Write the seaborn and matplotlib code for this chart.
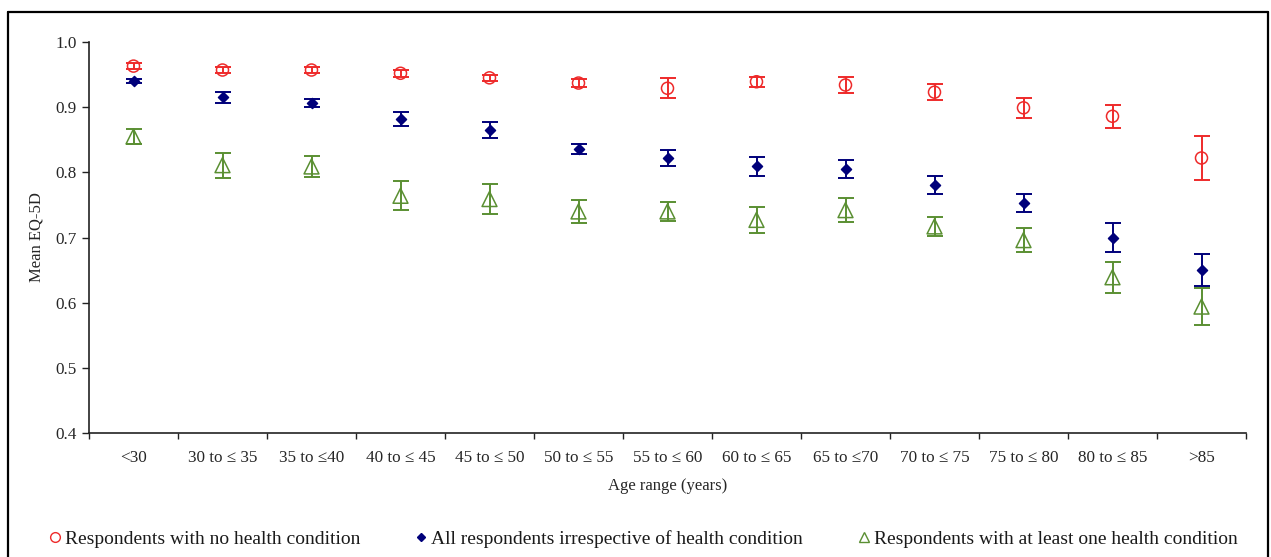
import numpy as np
import pandas as pd
import seaborn as sns
import matplotlib.pyplot as plt
from matplotlib.lines import Line2D

# --- Data ---
AGE_GROUPS = ['<30', '30 to \u2264 35', '35 to \u226440', '40 to \u2264 45', '45 to \u2264 50',
              '50 to \u2264 55', '55 to \u2264 60', '60 to \u2264 65', '65 to \u226470',
              '70 to \u2264 75', '75 to \u2264 80', '80 to \u2264 85', '>85']

NO_COND_MEAN = [0.963, 0.957, 0.957, 0.952, 0.945, 0.937, 0.929, 0.939, 0.934, 0.923, 0.899, 0.886, 0.822]
NO_COND_ERR = [0.005, 0.004, 0.004, 0.005, 0.005, 0.006, 0.015, 0.008, 0.013, 0.012, 0.015, 0.018, 0.034]

ALL_MEAN = [0.940, 0.915, 0.907, 0.882, 0.865, 0.836, 0.822, 0.809, 0.805, 0.781, 0.753, 0.700, 0.650]
ALL_ERR = [0.003, 0.008, 0.006, 0.011, 0.012, 0.008, 0.012, 0.015, 0.014, 0.0135, 0.0145, 0.0215, 0.025]

COND_MEAN = [0.855, 0.811, 0.809, 0.764, 0.759, 0.740, 0.740, 0.727, 0.742, 0.717, 0.696, 0.639, 0.594]
COND_ERR = [0.012, 0.019, 0.016, 0.022, 0.023, 0.017, 0.0145, 0.020, 0.018, 0.015, 0.018, 0.024, 0.029]

SERIES = [
    ('Respondents with no health condition', NO_COND_MEAN, NO_COND_ERR),
    ('All respondents irrespective of health condition', ALL_MEAN, ALL_ERR),
    ('Respondents with at least one health condition', COND_MEAN, COND_ERR),
]

# --- Style ---
RED = '#EE2A2A'
NAVY = '#00007A'
GREEN = '#5A8F32'
STYLES = {
    SERIES[0][0]: dict(color=RED, marker='o', face='none', size=75, ecolor=RED),
    SERIES[1][0]: dict(color=NAVY, marker='D', face=NAVY, size=26, ecolor=NAVY),
    SERIES[2][0]: dict(color=GREEN, marker='^', face='none', size=115, ecolor=GREEN),
}


def main():
    sns.set_theme(style='white')
    plt.rcParams['font.family'] = ['Liberation Serif', 'DejaVu Serif']
    plt.rcParams['text.color'] = '#1a1a1a'

    fig = plt.figure(figsize=(12.71, 5.57), dpi=100)
    ax = fig.add_axes([89 / 1271, 1 - 433 / 557, (1246 - 89) / 1271, (433 - 42) / 557])

    x = np.arange(len(AGE_GROUPS))
    for name, mean, err in SERIES:
        st = STYLES[name]
        df = pd.DataFrame({'pos': x, 'value': mean})
        ax.errorbar(df['pos'], df['value'], yerr=err, fmt='none', ecolor=st['ecolor'],
                    elinewidth=1.4, capsize=5.5, capthick=1.4, zorder=2)
        sns.scatterplot(data=df, x='pos', y='value', ax=ax, marker=st['marker'],
                        s=st['size'], facecolor=st['face'], edgecolor=st['color'],
                        linewidth=1.1, zorder=3)

    # axes
    ax.set_ylim(0.4, 1.0)
    ax.set_xlim(-0.5, len(AGE_GROUPS) - 0.5)
    ax.set_yticks(np.round(np.arange(0.4, 1.01, 0.1), 1))
    ax.set_yticklabels([f'{v:.1f}' for v in np.arange(0.4, 1.01, 0.1)])
    ax.set_xticks(np.arange(-0.5, len(AGE_GROUPS)), minor=False)
    ax.set_xticklabels([])
    ax.set_xticks(x, minor=True)
    ax.set_xticklabels(AGE_GROUPS, minor=True)
    ax.tick_params(axis='x', which='major', direction='out', length=4, width=1, color='#222222', bottom=True)
    ax.tick_params(axis='x', which='minor', length=0, pad=12, labelsize=12.3)
    ax.tick_params(axis='y', direction='out', length=5, width=1, color='#222222', left=True,
                   labelsize=12.3, pad=4)
    for side in ['top', 'right']:
        ax.spines[side].set_visible(False)
    for side in ['left', 'bottom']:
        ax.spines[side].set_color('#222222')
        ax.spines[side].set_linewidth(1.2)
    ax.grid(False)

    ax.set_xlabel('Age range (years)', fontsize=12, labelpad=9)
    ax.set_ylabel('Mean EQ-5D', fontsize=12, labelpad=8)

    # legend
    handles = []
    for name, _, _ in SERIES:
        st = STYLES[name]
        handles.append(Line2D([], [], linestyle='none', marker=st['marker'],
                              markerfacecolor=st['face'], markeredgecolor=st['color'],
                              markersize=7 if st['marker'] != 'D' else 4.5,
                              markeredgewidth=1.0, label=name))
    fig.legend(handles=handles, loc='center left', bbox_to_anchor=(49 / 1271, 1 - 539 / 557),
               ncol=3, frameon=False, fontsize=14, handlelength=0.6, handletextpad=0.2,
               columnspacing=2.85, borderpad=0, borderaxespad=0)

    # outer frame (open at the bottom)
    l, r, t = 8 / 1271, 1268 / 1271, 1 - 12 / 557
    for xs, ys in [([l, l], [0, t]), ([l, r], [t, t]), ([r, r], [t, 0])]:
        fig.add_artist(Line2D(xs, ys, color='black', linewidth=1.6, transform=fig.transFigure))

    fig.savefig('out.png', dpi=100)
    plt.close(fig)


if __name__ == '__main__':
    main()
